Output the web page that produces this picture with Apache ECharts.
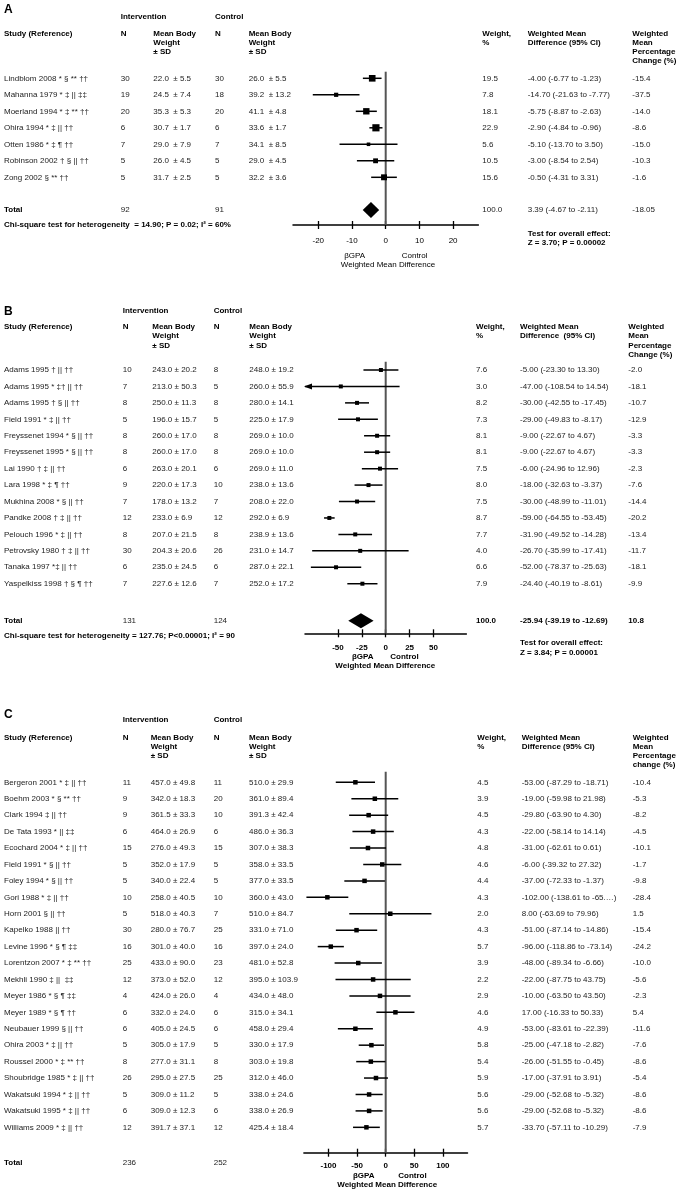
<!DOCTYPE html>
<html><head><meta charset="utf-8">
<script src="https://cdn.jsdelivr.net/npm/echarts@6/dist/echarts.min.js"></script>
<style>html,body{margin:0;padding:0;background:#fff}#c{width:681px;height:1193px}</style>
</head><body><div id="c"></div><script>
// ---------- Panel A data ----------
const studiesA = ["Lindblom 2008 * § ** ††","Mahanna 1979 * ‡ || ‡‡","Moerland 1994 * ‡ ** ††","Ohira 1994 * ‡ || ††","Otten 1986 * ‡ ¶ ††","Robinson 2002 † § || ††","Zong 2002 § ** ††"];
const intNA = [30,19,20,6,7,5,5];
const intMeanA = [22.0,24.5,35.3,30.7,29.0,26.0,31.7];
const intSDA = [5.5,7.4,5.3,1.7,7.9,4.5,2.5];
const ctlNA = [30,18,20,6,7,5,5];
const ctlMeanA = [26.0,39.2,41.1,33.6,34.1,29.0,32.2];
const ctlSDA = [5.5,13.2,4.8,1.7,8.5,4.5,3.6];
const weightA = [19.5,7.8,18.1,22.9,5.6,10.5,15.6];
const wmdA = [-4.00,-14.70,-5.75,-2.90,-5.10,-3.00,-0.50];
const loA = [-6.77,-21.63,-8.87,-4.84,-13.70,-8.54,-4.31];
const hiA = [-1.23,-7.77,-2.63,-0.96,3.50,2.54,3.31];
const pctA = [-15.4,-37.5,-14.0,-8.6,-15.0,-10.3,-1.6];
const drawnLoA = loA, drawnHiA = hiA;
const totalTextA = ["Total","92","91","100.0","3.39 (-4.67 to -2.11)","-18.05"];
const totalDiamondA = [-6.82,-1.93];
const ticksA = [-20,-10,0,10,20];

// ---------- Panel B data ----------
const studiesB = ["Adams 1995 † || ††","Adams 1995 * ‡† || ††","Adams 1995 † § || ††","Field 1991 * ‡ || ††","Freyssenet 1994 * § || ††","Freyssenet 1995 * § || ††","Lai 1990 † ‡ || ††","Lara 1998 * ‡ ¶ ††","Mukhina 2008 * § || ††","Pandke 2008 † ‡ || ††","Pelouch 1996 * ‡ || ††","Petrovsky 1980 † ‡ || ††","Tanaka 1997 *‡ || ††","Yaspelkiss 1998 † § ¶ ††"];
const intNB = [10,7,8,5,8,8,6,9,7,12,8,30,6,7];
const intMeanB = [243.0,213.0,250.0,196.0,260.0,260.0,263.0,220.0,178.0,233.0,207.0,204.3,235.0,227.6];
const intSDB = [20.2,50.3,11.3,15.7,17.0,17.0,20.1,17.3,13.2,6.9,21.5,20.6,24.5,12.6];
const ctlNB = [8,5,8,5,8,8,6,10,7,12,8,26,6,7];
const ctlMeanB = [248.0,260.0,280.0,225.0,269.0,269.0,269.0,238.0,208.0,292.0,238.9,231.0,287.0,252.0];
const ctlSDB = [19.2,55.9,14.1,17.9,10.0,10.0,11.0,13.6,22.0,6.9,13.6,14.7,22.1,17.2];
const weightB = [7.6,3.0,8.2,7.3,8.1,8.1,7.5,8.0,7.5,8.7,7.7,4.0,6.6,7.9];
const wmdB = [-5.00,-47.00,-30.00,-29.00,-9.00,-9.00,-6.00,-18.00,-30.00,-59.00,-31.90,-26.70,-52.00,-24.40];
const loB = [-23.30,-108.54,-42.55,-49.83,-22.67,-22.67,-24.96,-32.63,-48.99,-64.55,-49.52,-35.99,-78.37,-40.19];
const hiB = [13.30,14.54,-17.45,-8.17,4.67,4.67,12.96,-3.37,-11.01,-53.45,-14.28,-17.41,-25.63,-8.61];
const pctB = [-2.0,-18.1,-10.7,-12.9,-3.3,-3.3,-2.3,-7.6,-14.4,-20.2,-13.4,-11.7,-18.1,-9.9];
// whiskers as drawn in the figure (Petrovsky is drawn wider than its printed CI)
const drawnLoB = [-23.30,-108.54,-42.55,-49.83,-22.67,-22.67,-24.96,-32.63,-48.99,-64.55,-49.52,-77.0,-78.37,-40.19];
const drawnHiB = [13.30,14.54,-17.45,-8.17,4.67,4.67,12.96,-3.37,-11.01,-53.45,-14.28,24.0,-25.63,-8.61];
const totalTextB = ["Total","131","124","100.0","-25.94 (-39.19 to -12.69)","10.8"];
const totalDiamondB = [-39.19,-12.69];
const ticksB = [-50,-25,0,25,50];

// ---------- Panel C data ----------
const studiesC = ["Bergeron 2001 * ‡ || ††","Boehm 2003 * § ** ††","Clark 1994 ‡ || ††","De Tata 1993 * || ‡‡","Ecochard 2004 * ‡ || ††","Field 1991 * § || ††","Foley 1994 * § || ††","Gori 1988 * ‡ || ††","Horn 2001 § || ††","Kapelko 1988 || ††","Levine 1996 * § ¶ ‡‡","Lorentzon 2007 * ‡ ** ††","Mekhli 1990 ‡ ||  ‡‡","Meyer 1986 * § ¶ ‡‡","Meyer 1989 * § ¶ ††","Neubauer 1999 § || ††","Ohira 2003 * ‡ || ††","Roussel 2000 * ‡ ** ††","Shoubridge 1985 * ‡ || ††","Wakatsuki 1994 * ‡ || ††","Wakatsuki 1995 * ‡ || ††","Williams 2009 * ‡ || ††"];
const intNC = [11,9,9,6,15,5,5,10,5,30,16,25,12,4,6,6,5,8,26,5,6,12];
const intMeanC = [457.0,342.0,361.5,464.0,276.0,352.0,340.0,258.0,518.0,280.0,301.0,433.0,373.0,424.0,332.0,405.0,305.0,277.0,295.0,309.0,309.0,391.7];
const intSDC = [49.8,18.3,33.3,26.9,49.3,17.9,22.4,40.5,40.3,76.7,40.0,90.0,52.0,26.0,24.0,24.5,17.9,31.1,27.5,11.2,12.3,37.1];
const ctlNC = [11,20,10,6,15,5,5,10,7,25,16,23,12,4,6,6,5,8,25,5,6,12];
const ctlMeanC = [510.0,361.0,391.3,486.0,307.0,358.0,377.0,360.0,510.0,331.0,397.0,481.0,395.0,434.0,315.0,458.0,330.0,303.0,312.0,338.0,338.0,425.4];
const ctlSDC = [29.9,89.4,42.4,36.3,38.3,33.5,33.5,43.0,84.7,71.0,24.0,52.8,103.9,48.0,34.1,29.4,17.9,19.8,46.0,24.6,26.9,18.4];
const weightC = [4.5,3.9,4.5,4.3,4.8,4.6,4.4,4.3,2.0,4.3,5.7,3.9,2.2,2.9,4.6,4.9,5.8,5.4,5.9,5.6,5.6,5.7];
const wmdC = [-53.00,-19.00,-29.80,-22.00,-31.00,-6.00,-37.00,-102.00,8.00,-51.00,-96.00,-48.00,-22.00,-10.00,17.00,-53.00,-25.00,-26.00,-17.00,-29.00,-29.00,-33.70];
const loC = [-87.29,-59.98,-63.90,-58.14,-62.61,-39.32,-72.33,-138.61,-63.69,-87.14,-118.86,-89.34,-87.75,-63.50,-16.33,-83.61,-47.18,-51.55,-37.91,-52.68,-52.68,-57.11];
const hiC = [-18.71,21.98,4.30,14.14,0.61,27.32,-1.37,-65.39,79.96,-14.86,-73.14,-6.66,43.75,43.50,50.33,-22.39,-2.82,-0.45,3.91,-5.32,-5.32,-10.29];
const pctC = [-10.4,-5.3,-8.2,-4.5,-10.1,-1.7,-9.8,-28.4,1.5,-15.4,-24.2,-10.0,-5.6,-2.3,5.4,-11.6,-7.6,-8.6,-5.4,-8.6,-8.6,-7.9];
const drawnLoC = loC, drawnHiC = hiC;
const ciLabelOverrideC = {7: "-102.00 (-138.61 to -65.…)"};
const totalTextC = ["Total","236","252"];
const ticksC = [-100,-50,0,50,100];

// ---------- layout / styling ----------
const FF = '"Liberation Sans", Arial, Helvetica, sans-serif';
function font(size, bold) { return (bold ? 'bold ' : '') + size + 'px ' + FF; }

const panels = [
  { name:'A', studies:studiesA, intN:intNA, intMean:intMeanA, intSD:intSDA, ctlN:ctlNA, ctlMean:ctlMeanA, ctlSD:ctlSDA,
    weight:weightA, wmd:wmdA, lo:loA, hi:hiA, pct:pctA, dlo:drawnLoA, dhi:drawnHiA, override:{},
    totalText:totalTextA, totalBold:[true,false,false,false,false,false], diamond:totalDiamondA, ticks:ticksA,
    L:{ row0:78.3, step:16.5, top:71.7, axisY:225, xmin:-27.5, xmax:27.5, zeroX:385.7, ppu:3.371, totalY:210,
        labelMargin:12, tickBold:false, cols:[4,120.7,153.3,215,248.7,482.3,527.7,632.3], sep:'  ± ',
        sq:(w)=>1.5*Math.sqrt(w), diamondH:16 } },
  { name:'B', studies:studiesB, intN:intNB, intMean:intMeanB, intSD:intSDB, ctlN:ctlNB, ctlMean:ctlMeanB, ctlSD:ctlSDB,
    weight:weightB, wmd:wmdB, lo:loB, hi:hiB, pct:pctB, dlo:drawnLoB, dhi:drawnHiB, override:{},
    totalText:totalTextB, totalBold:[true,false,false,true,true,true], diamond:totalDiamondB, ticks:ticksB,
    L:{ row0:370, step:16.44, top:361.7, axisY:633.3, xmin:-84.5, xmax:84.5, zeroX:385.7, ppu:0.955, totalY:620.7,
        labelMargin:10, tickBold:true, cols:[4,122.7,152.3,213.7,249.3,476,520,628.3], sep:' ± ',
        sq:(w)=>4, diamondH:15 } },
  { name:'C', studies:studiesC, intN:intNC, intMean:intMeanC, intSD:intSDC, ctlN:ctlNC, ctlMean:ctlMeanC, ctlSD:ctlSDC,
    weight:weightC, wmd:wmdC, lo:loC, hi:hiC, pct:pctC, dlo:drawnLoC, dhi:drawnHiC, override:ciLabelOverrideC,
    totalText:totalTextC, totalBold:[true,false,false], diamond:null, ticks:ticksC,
    L:{ row0:782.3, step:16.43, top:771.7, axisY:1152.7, xmin:-143, xmax:143, zeroX:385.7, ppu:0.572, totalY:1162.3,
        labelMargin:9, tickBold:true, cols:[4,122.7,150.7,213.7,249,477.3,521.7,632.7], sep:' ± ',
        sq:(w)=>4.5 } }
];

function ctext(x, y, s, bold, align) {
  return { type:'text', x:x, y:y, style:{ text:s, fill: bold ? '#000' : '#222', font: font(8, bold),
    textAlign: align || 'left', textVerticalAlign:'middle' } };
}

const option = { animation:false, backgroundColor:'#fff', grid:[], xAxis:[], yAxis:[], series:[], graphic:{ elements:[] } };

panels.forEach((P, gi) => {
  const L = P.L;
  const yMin = (L.top - L.row0) / L.step, yMax = (L.axisY - L.row0) / L.step;
  const totalRow = (L.totalY - L.row0) / L.step;
  option.grid.push({ left: L.zeroX + L.xmin * L.ppu, width: (L.xmax - L.xmin) * L.ppu, top: L.top, height: L.axisY - L.top });
  option.yAxis.push({ gridIndex:gi, type:'value', inverse:true, min:yMin, max:yMax, show:false });
  option.xAxis.push({ gridIndex:gi, type:'value', min:L.xmin, max:L.xmax, position:'bottom',
    axisLine:{ show:true, onZero:false, lineStyle:{ color:'#000', width:1.5 } },
    axisTick:{ show:true, customValues:P.ticks, length:4, lineStyle:{ color:'#000', width:1.3 } },
    axisLabel:{ show:true, customValues:P.ticks, margin:L.labelMargin, fontSize:8, fontFamily:FF,
      fontWeight: L.tickBold ? 'bold' : 'normal', color:'#000', formatter:(v)=>String(v) },
    splitLine:{ show:false } });
  option.xAxis.push({ gridIndex:gi, type:'value', min:L.xmin, max:L.xmax, position:'bottom', offset:0,
    axisLine:{ show:false, onZero:false },
    axisTick:{ show:true, inside:true, customValues:P.ticks, length:4, lineStyle:{ color:'#000', width:1.3 } },
    axisLabel:{ show:false }, splitLine:{ show:false } });
  const xi = gi * 2;

  // zero reference line
  option.series.push({ type:'custom', xAxisIndex:xi, yAxisIndex:gi, silent:true, data:[[0, 0]],
    renderItem:(params, api) => {
      const p1 = api.coord([0, yMin]), p2 = api.coord([0, yMax]);
      return { type:'line', shape:{ x1:p1[0], y1:p1[1], x2:p2[0], y2:p2[1] }, style:{ stroke:'#555', lineWidth:2 } };
    } });

  // confidence intervals + squares
  option.series.push({ type:'custom', xAxisIndex:xi, yAxisIndex:gi, silent:true,
    data: P.studies.map((s, i) => [i, P.wmd[i], P.dlo[i], P.dhi[i], P.weight[i]]),
    renderItem:(params, api) => {
      const row = api.value(0), m = api.value(1), lo = api.value(2), hi = api.value(3), w = api.value(4);
      const l = Math.max(lo, L.xmin), r = Math.min(hi, L.xmax);
      const y = api.coord([0, row])[1];
      const xl = api.coord([l, row])[0], xr = api.coord([r, row])[0], xm = api.coord([m, row])[0];
      const s = L.sq(w);
      const ch = [
        { type:'line', shape:{ x1:xl, y1:y, x2:xr, y2:y }, style:{ stroke:'#000', lineWidth:1.5 } },
        { type:'rect', shape:{ x:xm - s/2, y:y - s/2, width:s, height:s }, style:{ fill:'#000' } }
      ];
      if (lo < L.xmin) ch.push({ type:'polygon', shape:{ points:[[xl - 1, y], [xl + 7, y - 3], [xl + 7, y + 3]] }, style:{ fill:'#000' } });
      if (hi > L.xmax) ch.push({ type:'polygon', shape:{ points:[[xr + 1, y], [xr - 7, y - 3], [xr - 7, y + 3]] }, style:{ fill:'#000' } });
      return { type:'group', children:ch };
    } });

  // pooled diamond
  if (P.diamond) {
    option.series.push({ type:'custom', xAxisIndex:xi, yAxisIndex:gi, silent:true,
      data:[[totalRow, P.diamond[0], P.diamond[1]]],
      renderItem:(params, api) => {
        const row = api.value(0), lo = api.value(1), hi = api.value(2);
        const a = api.coord([lo, row]), b = api.coord([hi, row]), c = api.coord([(lo + hi) / 2, row]);
        const h = L.diamondH / 2;
        return { type:'polygon', shape:{ points:[[a[0], a[1]], [c[0], c[1] - h], [b[0], b[1]], [c[0], c[1] + h]] }, style:{ fill:'#000' } };
      } });
  }

  // table rows
  const c = L.cols;
  option.series.push({ type:'custom', xAxisIndex:xi, yAxisIndex:gi, silent:true,
    data: P.studies.map((s, i) => [0, i]),
    renderItem:(params, api) => {
      const i = params.dataIndex;
      const y = api.coord([0, api.value(1)])[1];
      const ci = P.override[i] || (P.wmd[i].toFixed(2) + ' (' + P.lo[i].toFixed(2) + ' to ' + P.hi[i].toFixed(2) + ')');
      return { type:'group', children:[
        ctext(c[0], y, P.studies[i]),
        ctext(c[1], y, String(P.intN[i])),
        ctext(c[2], y, P.intMean[i].toFixed(1) + L.sep + P.intSD[i].toFixed(1)),
        ctext(c[3], y, String(P.ctlN[i])),
        ctext(c[4], y, P.ctlMean[i].toFixed(1) + L.sep + P.ctlSD[i].toFixed(1)),
        ctext(c[5], y, P.weight[i].toFixed(1)),
        ctext(c[6], y, ci),
        ctext(c[7], y, P.pct[i].toFixed(1))
      ] };
    } });

  // total row
  const tcols = [c[0], c[1], c[3], c[5], c[6], c[7]];
  option.series.push({ type:'custom', xAxisIndex:xi, yAxisIndex:gi, silent:true, data:[[0, totalRow]],
    renderItem:(params, api) => {
      const y = api.coord([0, api.value(1)])[1];
      return { type:'group', children: P.totalText.map((t, k) => ctext(tcols[k], y, t, P.totalBold[k])) };
    } });
});

// ---------- headers / annotations (graphic text) ----------
const G = option.graphic.elements;
function T(x, y, s, bold, size, align) {
  G.push({ type:'text', x:x, y:y, silent:true, style:{ text:s, fill:'#000', font:font(size || 8, bold),
    textAlign: align || 'left', textVerticalAlign:'middle' } });
}
function block(x, y0, lines, bold) { lines.forEach((t, k) => T(x, y0 + k * 9.33, t, bold)); }

const headerSpecs = [
  { label:'A', ly:10, iy:16.7, hy:33.3, cols:panels[0].L.cols, wmdLines:['Weighted Mean','Difference (95% CI)'], pctLines:['Weighted','Mean','Percentage','Change (%)'] },
  { label:'B', ly:311.7, iy:310.7, hy:326.9, cols:panels[1].L.cols, wmdLines:['Weighted Mean','Difference  (95% CI)'], pctLines:['Weighted','Mean','Percentage','Change (%)'] },
  { label:'C', ly:715, iy:720, hy:737.3, cols:panels[2].L.cols, wmdLines:['Weighted Mean','Difference (95% CI)'], pctLines:['Weighted','Mean','Percentage','change (%)'] }
];
headerSpecs.forEach((h) => {
  const c = h.cols;
  T(c[0], h.ly, h.label, true, 12);
  T(c[1], h.iy, 'Intervention', true);
  T(c[3], h.iy, 'Control', true);
  block(c[0], h.hy, ['Study (Reference)'], true);
  block(c[1], h.hy, ['N'], true);
  block(c[2], h.hy, ['Mean Body', 'Weight', '± SD'], true);
  block(c[3], h.hy, ['N'], true);
  block(c[4], h.hy, ['Mean Body', 'Weight', '± SD'], true);
  block(c[5], h.hy, ['Weight,', '%'], true);
  block(c[6], h.hy, h.wmdLines, true);
  block(c[7], h.hy, h.pctLines, true);
});

// footers
T(4, 225, 'Chi-square test for heterogeneity  = 14.90; P = 0.02; I² = 60%', true);
T(527.7, 233.3, 'Test for overall effect:', true);
T(527.7, 242.3, 'Z = 3.70; P = 0.00002', true);
T(4, 635.7, 'Chi-square test for heterogeneity = 127.76; P<0.00001; I² = 90', true);
T(520, 643, 'Test for overall effect:', true);
T(520, 652.7, 'Z = 3.84; P = 0.00001', true);

// axis titles
T(354.6, 255.5, 'βGPA', false, 8, 'center');
T(414.6, 255.5, 'Control', false, 8, 'center');
T(388, 264.5, 'Weighted Mean Difference', false, 8, 'center');
T(362.7, 656.7, 'βGPA', true, 8, 'center');
T(404.5, 656.7, 'Control', true, 8, 'center');
T(385.3, 666, 'Weighted Mean Difference', true, 8, 'center');
T(363.7, 1175.3, 'βGPA', true, 8, 'center');
T(412.5, 1175.3, 'Control', true, 8, 'center');
T(387.2, 1185, 'Weighted Mean Difference', true, 8, 'center');

const chart = echarts.init(document.getElementById('c'), null, { renderer:'canvas', width:681, height:1193 });
chart.setOption(option);
</script></body></html>
